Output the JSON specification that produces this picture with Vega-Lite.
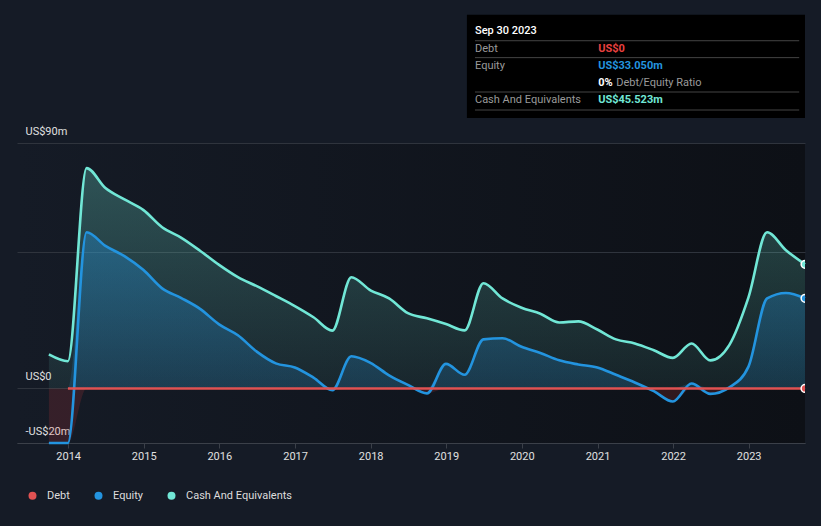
{
  "$schema": "https://vega.github.io/schema/vega-lite/v6.json",
  "autosize": {"type": "none"},
  "width": 788,
  "height": 300,
  "padding": {"left": 17, "top": 143, "right": 16, "bottom": 83},
  "background": "#151b26",
  "config": {
    "font": "Roboto",
    "view": {"stroke": null, "fill": {"gradient": "linear", "x1": 0, "y1": 0, "x2": 1, "y2": 0, "stops": [{"offset": 0, "color": "#151b26"}, {"offset": 1, "color": "#0d1016"}]}},
    "legend": {
      "title": null, "orient": "none", "direction": "horizontal", "legendX": 0, "legendY": 347, "padding": 0, "offset": 0,
      "symbolType": "circle", "symbolSize": 64, "symbolStrokeWidth": 0, "labelColor": "#dddddd", "labelFontSize": 11,
      "symbolOffset": 10, "labelOffset": 9, "columnPadding": 13
    }
  },
  "datasets": {
    "series": [
      {"date": "2013-09-30", "series": "Cash And Equivalents", "value": 12.5},
      {"date": "2013-12-31", "series": "Cash And Equivalents", "value": 10},
      {"date": "2014-03-31", "series": "Cash And Equivalents", "value": 80.8},
      {"date": "2014-06-30", "series": "Cash And Equivalents", "value": 73.5},
      {"date": "2014-09-30", "series": "Cash And Equivalents", "value": 69.3},
      {"date": "2014-12-31", "series": "Cash And Equivalents", "value": 65.4},
      {"date": "2015-03-31", "series": "Cash And Equivalents", "value": 59.1},
      {"date": "2015-06-30", "series": "Cash And Equivalents", "value": 55.3},
      {"date": "2015-09-30", "series": "Cash And Equivalents", "value": 50.5},
      {"date": "2015-12-31", "series": "Cash And Equivalents", "value": 45.3},
      {"date": "2016-03-31", "series": "Cash And Equivalents", "value": 40.8},
      {"date": "2016-06-30", "series": "Cash And Equivalents", "value": 37.5},
      {"date": "2016-09-30", "series": "Cash And Equivalents", "value": 33.9},
      {"date": "2016-12-31", "series": "Cash And Equivalents", "value": 30.2},
      {"date": "2017-03-31", "series": "Cash And Equivalents", "value": 26.1},
      {"date": "2017-06-30", "series": "Cash And Equivalents", "value": 21.2},
      {"date": "2017-09-30", "series": "Cash And Equivalents", "value": 40.8},
      {"date": "2017-12-31", "series": "Cash And Equivalents", "value": 36},
      {"date": "2018-03-31", "series": "Cash And Equivalents", "value": 33},
      {"date": "2018-06-30", "series": "Cash And Equivalents", "value": 27.6},
      {"date": "2018-09-30", "series": "Cash And Equivalents", "value": 25.7},
      {"date": "2018-12-31", "series": "Cash And Equivalents", "value": 23.6},
      {"date": "2019-03-31", "series": "Cash And Equivalents", "value": 21.3},
      {"date": "2019-06-30", "series": "Cash And Equivalents", "value": 38.6},
      {"date": "2019-09-30", "series": "Cash And Equivalents", "value": 33},
      {"date": "2019-12-31", "series": "Cash And Equivalents", "value": 29.6},
      {"date": "2020-03-31", "series": "Cash And Equivalents", "value": 27.4},
      {"date": "2020-06-30", "series": "Cash And Equivalents", "value": 24.2},
      {"date": "2020-09-30", "series": "Cash And Equivalents", "value": 24.6},
      {"date": "2020-12-31", "series": "Cash And Equivalents", "value": 21.6},
      {"date": "2021-03-31", "series": "Cash And Equivalents", "value": 18},
      {"date": "2021-06-30", "series": "Cash And Equivalents", "value": 16.5},
      {"date": "2021-09-30", "series": "Cash And Equivalents", "value": 14},
      {"date": "2021-12-31", "series": "Cash And Equivalents", "value": 11.2},
      {"date": "2022-03-31", "series": "Cash And Equivalents", "value": 16.5},
      {"date": "2022-06-30", "series": "Cash And Equivalents", "value": 10.3},
      {"date": "2022-09-30", "series": "Cash And Equivalents", "value": 16},
      {"date": "2022-12-31", "series": "Cash And Equivalents", "value": 33.4},
      {"date": "2023-03-31", "series": "Cash And Equivalents", "value": 57.3},
      {"date": "2023-06-30", "series": "Cash And Equivalents", "value": 50.7},
      {"date": "2023-09-30", "series": "Cash And Equivalents", "value": 45.523},
      {"date": "2013-09-30", "series": "Equity", "value": -20},
      {"date": "2013-12-31", "series": "Equity", "value": -20},
      {"date": "2014-03-31", "series": "Equity", "value": 57.3},
      {"date": "2014-06-30", "series": "Equity", "value": 52.3},
      {"date": "2014-09-30", "series": "Equity", "value": 48.5},
      {"date": "2014-12-31", "series": "Equity", "value": 43.4},
      {"date": "2015-03-31", "series": "Equity", "value": 36.7},
      {"date": "2015-06-30", "series": "Equity", "value": 33.2},
      {"date": "2015-09-30", "series": "Equity", "value": 29.2},
      {"date": "2015-12-31", "series": "Equity", "value": 23.5},
      {"date": "2016-03-31", "series": "Equity", "value": 19.5},
      {"date": "2016-06-30", "series": "Equity", "value": 13.5},
      {"date": "2016-09-30", "series": "Equity", "value": 9.2},
      {"date": "2016-12-31", "series": "Equity", "value": 7.7},
      {"date": "2017-03-31", "series": "Equity", "value": 4},
      {"date": "2017-06-30", "series": "Equity", "value": -0.6},
      {"date": "2017-09-30", "series": "Equity", "value": 11.8},
      {"date": "2017-12-31", "series": "Equity", "value": 9.4},
      {"date": "2018-03-31", "series": "Equity", "value": 4.8},
      {"date": "2018-06-30", "series": "Equity", "value": 1.3},
      {"date": "2018-09-30", "series": "Equity", "value": -1.8},
      {"date": "2018-12-31", "series": "Equity", "value": 9},
      {"date": "2019-03-31", "series": "Equity", "value": 5},
      {"date": "2019-06-30", "series": "Equity", "value": 18},
      {"date": "2019-09-30", "series": "Equity", "value": 18.4},
      {"date": "2019-12-31", "series": "Equity", "value": 15.3},
      {"date": "2020-03-31", "series": "Equity", "value": 13},
      {"date": "2020-06-30", "series": "Equity", "value": 10.3},
      {"date": "2020-09-30", "series": "Equity", "value": 8.8},
      {"date": "2020-12-31", "series": "Equity", "value": 7.7},
      {"date": "2021-03-31", "series": "Equity", "value": 5},
      {"date": "2021-06-30", "series": "Equity", "value": 2.2},
      {"date": "2021-09-30", "series": "Equity", "value": -1},
      {"date": "2021-12-31", "series": "Equity", "value": -4.8},
      {"date": "2022-03-31", "series": "Equity", "value": 1.8},
      {"date": "2022-06-30", "series": "Equity", "value": -2},
      {"date": "2022-09-30", "series": "Equity", "value": 0.4},
      {"date": "2022-12-31", "series": "Equity", "value": 8},
      {"date": "2023-03-31", "series": "Equity", "value": 33},
      {"date": "2023-06-30", "series": "Equity", "value": 35},
      {"date": "2023-09-30", "series": "Equity", "value": 33.05},
      {"date": "2013-12-31", "series": "Debt", "value": 0},
      {"date": "2014-03-31", "series": "Debt", "value": 0},
      {"date": "2014-06-30", "series": "Debt", "value": 0},
      {"date": "2014-09-30", "series": "Debt", "value": 0},
      {"date": "2014-12-31", "series": "Debt", "value": 0},
      {"date": "2015-03-31", "series": "Debt", "value": 0},
      {"date": "2015-06-30", "series": "Debt", "value": 0},
      {"date": "2015-09-30", "series": "Debt", "value": 0},
      {"date": "2015-12-31", "series": "Debt", "value": 0},
      {"date": "2016-03-31", "series": "Debt", "value": 0},
      {"date": "2016-06-30", "series": "Debt", "value": 0},
      {"date": "2016-09-30", "series": "Debt", "value": 0},
      {"date": "2016-12-31", "series": "Debt", "value": 0},
      {"date": "2017-03-31", "series": "Debt", "value": 0},
      {"date": "2017-06-30", "series": "Debt", "value": 0},
      {"date": "2017-09-30", "series": "Debt", "value": 0},
      {"date": "2017-12-31", "series": "Debt", "value": 0},
      {"date": "2018-03-31", "series": "Debt", "value": 0},
      {"date": "2018-06-30", "series": "Debt", "value": 0},
      {"date": "2018-09-30", "series": "Debt", "value": 0},
      {"date": "2018-12-31", "series": "Debt", "value": 0},
      {"date": "2019-03-31", "series": "Debt", "value": 0},
      {"date": "2019-06-30", "series": "Debt", "value": 0},
      {"date": "2019-09-30", "series": "Debt", "value": 0},
      {"date": "2019-12-31", "series": "Debt", "value": 0},
      {"date": "2020-03-31", "series": "Debt", "value": 0},
      {"date": "2020-06-30", "series": "Debt", "value": 0},
      {"date": "2020-09-30", "series": "Debt", "value": 0},
      {"date": "2020-12-31", "series": "Debt", "value": 0},
      {"date": "2021-03-31", "series": "Debt", "value": 0},
      {"date": "2021-06-30", "series": "Debt", "value": 0},
      {"date": "2021-09-30", "series": "Debt", "value": 0},
      {"date": "2021-12-31", "series": "Debt", "value": 0},
      {"date": "2022-03-31", "series": "Debt", "value": 0},
      {"date": "2022-06-30", "series": "Debt", "value": 0},
      {"date": "2022-09-30", "series": "Debt", "value": 0},
      {"date": "2022-12-31", "series": "Debt", "value": 0},
      {"date": "2023-03-31", "series": "Debt", "value": 0},
      {"date": "2023-06-30", "series": "Debt", "value": 0},
      {"date": "2023-09-30", "series": "Debt", "value": 0}
    ],
    "panelBox": [{"date": "2019-04-11", "date2": "2023-09-30", "top": 137, "bottom": 99.2}],
    "panelRules": [
      {"date": "2019-05-20", "date2": "2023-09-02", "level": 127.5},
      {"date": "2019-05-20", "date2": "2023-09-02", "level": 121.3},
      {"date": "2019-05-20", "date2": "2023-09-02", "level": 108.7},
      {"date": "2019-05-20", "date2": "2023-09-02", "level": 102.1}
    ],
    "panelText": [
      {"date": "2019-05-20", "level": 131.1, "text": "Sep 30 2023", "role": "title"},
      {"date": "2019-05-20", "level": 124.6, "text": "Debt", "role": "label"},
      {"date": "2019-05-20", "level": 118.3, "text": "Equity", "role": "label"},
      {"date": "2019-05-20", "level": 105.8, "text": "Cash And Equivalents", "role": "label"},
      {"date": "2021-04-01", "level": 112, "text": "Debt/Equity Ratio", "role": "label"},
      {"date": "2021-01-04", "level": 112, "text": "0%", "role": "ratio"},
      {"date": "2021-01-04", "level": 124.6, "text": "US$0", "role": "debt"},
      {"date": "2021-01-04", "level": 118.3, "text": "US$33.050m", "role": "equity"},
      {"date": "2021-01-04", "level": 105.8, "text": "US$45.523m", "role": "cash"}
    ]
  },
  "encoding": {
    "x": {
      "field": "date", "type": "temporal",
      "scale": {"domain": ["2013-04-29", "2023-09-30"]},
      "axis": {
        "title": null, "format": "%Y", "tickCount": {"interval": "year", "step": 1},
        "grid": false, "domainColor": "#3b4049", "tickColor": "#3b4049", "tickSize": 5,
        "labelColor": "#e0e0e0", "labelFontSize": 11, "labelPadding": 2, "labelFlush": false
      }
    }
  },
  "layer": [
    {
      "data": {"name": "series"},
      "transform": [{"filter": {"field": "series", "equal": "Cash And Equivalents"}}],
      "mark": {"type": "area", "interpolate": "monotone", "fill": {"gradient": "linear", "x1": 0, "y1": 0, "x2": 0, "y2": 1, "stops": [{"offset": 0, "color": "rgba(113,231,214,0.28)"}, {"offset": 1, "color": "rgba(113,231,214,0.08)"}]}},
      "encoding": {
        "y": {
          "field": "value", "type": "quantitative",
          "scale": {"domain": [-20, 90], "nice": false},
          "axis": {
            "title": null, "values": [-20, 0, 50, 90],
            "labelExpr": "datum.value == 90 ? 'US$90m' : datum.value == 0 ? 'US$0' : datum.value == -20 ? '-US$20m' : ''",
            "grid": true, "gridColor": "#2f343d", "domain": false, "ticks": false, "tickSize": 0,
            "labelAlign": "left", "labelBaseline": "bottom", "labelPadding": -8, "labelOffset": -7,
            "labelColor": "#e0e0e0", "labelFontSize": 11, "labelFlush": false
          }
        },
        "y2": {"datum": 0}
      }
    },
    {
      "data": {"name": "series"},
      "transform": [{"filter": {"field": "series", "equal": "Equity"}}],
      "mark": {"type": "area", "interpolate": "monotone", "fill": {"gradient": "linear", "x1": 0, "y1": 0, "x2": 0, "y2": 1, "stops": [{"offset": 0, "color": "rgba(35,148,223,0.36)"}, {"offset": 1, "color": "rgba(35,148,223,0.18)"}]}},
      "encoding": {
        "y": {
          "field": "value", "type": "quantitative",
          "scale": {"domain": [0, 90], "nice": false, "clamp": true, "zero": false, "range": [{"expr": "height*90/110"}, 0]},
          "axis": null
        },
        "y2": {"datum": 0}
      }
    },
    {
      "data": {"name": "series"},
      "transform": [{"filter": {"field": "series", "equal": "Equity"}}],
      "mark": {"type": "area", "interpolate": "monotone", "fill": "rgba(230,65,65,0.16)"},
      "encoding": {
        "y": {
          "field": "value", "type": "quantitative",
          "scale": {"domain": [-20, 0], "nice": false, "clamp": true, "zero": false, "range": [{"expr": "height"}, {"expr": "height*90/110"}]},
          "axis": null
        },
        "y2": {"datum": 0}
      }
    },
    {
      "layer": [
        {
          "mark": {"type": "rule", "color": "#8a8d93", "strokeWidth": 2},
          "encoding": {"x": null, "y": {"datum": 0, "type": "quantitative", "scale": {"domain": [-20, 90], "nice": false}, "axis": null}}
        },
        {
          "data": {"name": "series"},
          "mark": {"type": "line", "interpolate": "monotone", "strokeWidth": 2.6},
          "encoding": {
            "y": {"field": "value", "type": "quantitative", "scale": {"domain": [-20, 90], "nice": false}, "axis": null},
            "stroke": {"field": "series", "type": "nominal", "scale": {"domain": ["Debt", "Equity", "Cash And Equivalents"], "range": ["#e05252", "#2394df", "#71e7d6"]}},
            "order": {"field": "series", "sort": "descending"}
          }
        },
        {
          "data": {"name": "series"},
          "transform": [{"filter": {"field": "date", "gte": {"year": 2023, "month": "sep", "date": 1, "utc": true}}}],
          "mark": {"type": "point", "filled": true, "opacity": 1, "size": 60, "stroke": "#ffffff", "strokeWidth": 1.5, "clip": true},
          "encoding": {
            "y": {"field": "value", "type": "quantitative", "scale": {"domain": [-20, 90], "nice": false}, "axis": null},
            "fill": {"field": "series", "type": "nominal", "scale": {"domain": ["Debt", "Equity", "Cash And Equivalents"], "range": ["#e05252", "#2394df", "#71e7d6"]}}
          }
        },
        {
          "data": {"name": "panelBox"},
          "mark": {"type": "rect", "fill": "#000000"},
          "encoding": {
            "x2": {"field": "date2"},
            "y": {"field": "top", "type": "quantitative", "scale": {"domain": [-20, 90], "nice": false}, "axis": null},
            "y2": {"field": "bottom"}
          }
        },
        {
          "data": {"name": "panelRules"},
          "mark": {"type": "rule", "color": "#444444", "strokeWidth": 1},
          "encoding": {
            "x2": {"field": "date2"},
            "y": {"field": "level", "type": "quantitative", "scale": {"domain": [-20, 90], "nice": false}, "axis": null}
          }
        },
        {
          "data": {"name": "panelText"},
          "transform": [{"filter": {"field": "role", "equal": "title"}}],
          "mark": {"type": "text", "align": "left", "baseline": "middle", "fontSize": 11, "fontWeight": 500, "fill": "#ffffff"},
          "encoding": {
            "y": {"field": "level", "type": "quantitative", "scale": {"domain": [-20, 90], "nice": false}, "axis": null},
            "text": {"field": "text"}
          }
        },
        {
          "data": {"name": "panelText"},
          "transform": [{"filter": {"field": "role", "equal": "label"}}],
          "mark": {"type": "text", "align": "left", "baseline": "middle", "fontSize": 11, "fill": "#9a9a9a"},
          "encoding": {
            "y": {"field": "level", "type": "quantitative", "scale": {"domain": [-20, 90], "nice": false}, "axis": null},
            "text": {"field": "text"}
          }
        },
        {
          "data": {"name": "panelText"},
          "transform": [{"filter": {"field": "role", "equal": "ratio"}}],
          "mark": {"type": "text", "align": "left", "baseline": "middle", "fontSize": 11, "fontWeight": "bold", "fill": "#ffffff"},
          "encoding": {
            "y": {"field": "level", "type": "quantitative", "scale": {"domain": [-20, 90], "nice": false}, "axis": null},
            "text": {"field": "text"}
          }
        },
        {
          "data": {"name": "panelText"},
          "transform": [{"filter": {"field": "role", "equal": "debt"}}],
          "mark": {"type": "text", "align": "left", "baseline": "middle", "fontSize": 11, "fontWeight": "bold", "fill": "#e8403f"},
          "encoding": {
            "y": {"field": "level", "type": "quantitative", "scale": {"domain": [-20, 90], "nice": false}, "axis": null},
            "text": {"field": "text"}
          }
        },
        {
          "data": {"name": "panelText"},
          "transform": [{"filter": {"field": "role", "equal": "equity"}}],
          "mark": {"type": "text", "align": "left", "baseline": "middle", "fontSize": 11, "fontWeight": "bold", "fill": "#2394df"},
          "encoding": {
            "y": {"field": "level", "type": "quantitative", "scale": {"domain": [-20, 90], "nice": false}, "axis": null},
            "text": {"field": "text"}
          }
        },
        {
          "data": {"name": "panelText"},
          "transform": [{"filter": {"field": "role", "equal": "cash"}}],
          "mark": {"type": "text", "align": "left", "baseline": "middle", "fontSize": 11, "fontWeight": "bold", "fill": "#71e7d6"},
          "encoding": {
            "y": {"field": "level", "type": "quantitative", "scale": {"domain": [-20, 90], "nice": false}, "axis": null},
            "text": {"field": "text"}
          }
        }
      ]
    }
  ],
  "resolve": {"scale": {"y": "independent"}}
}
